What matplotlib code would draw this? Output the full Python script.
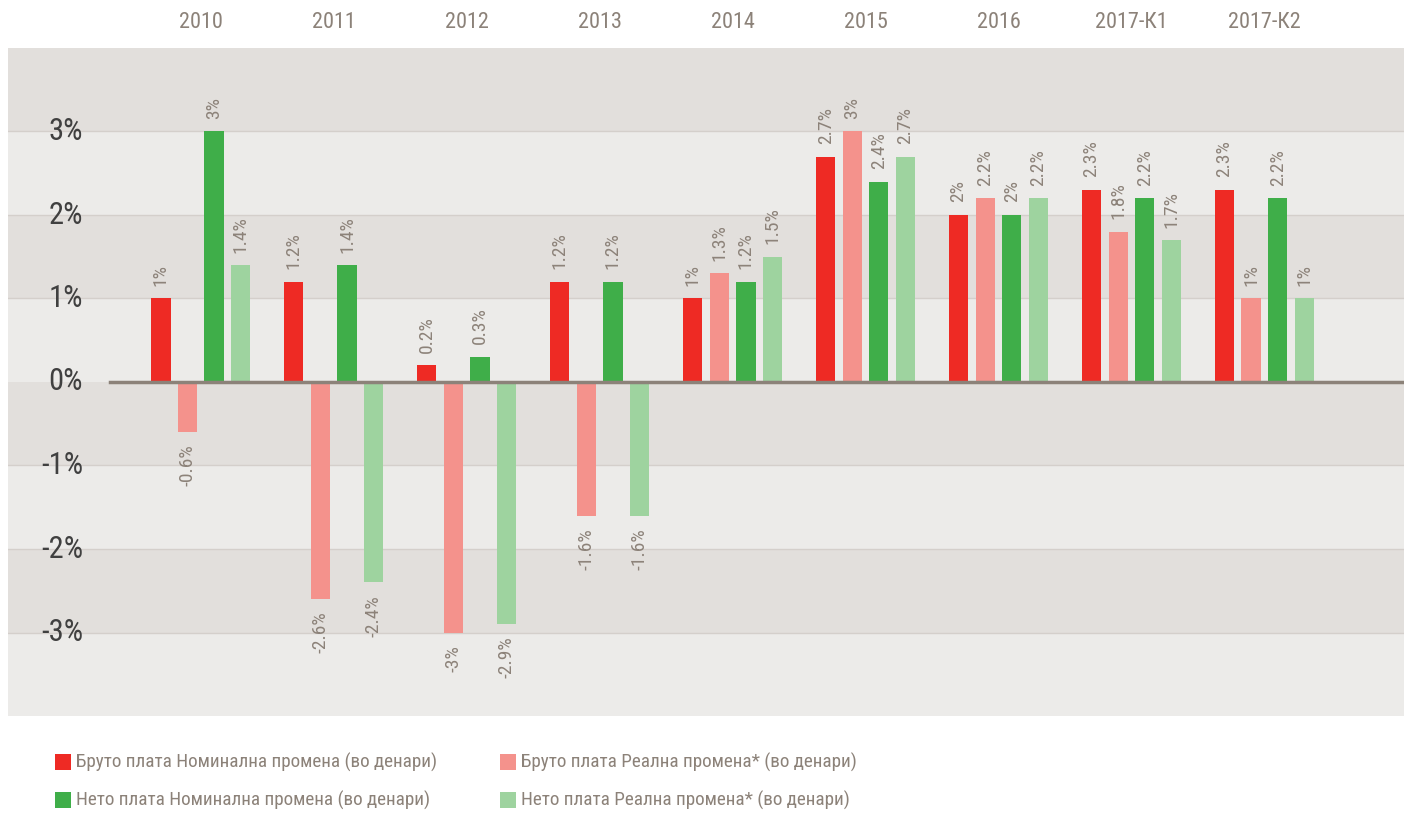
import matplotlib
matplotlib.use("Agg")
import matplotlib.pyplot as plt
from matplotlib.patches import Rectangle
import numpy as np

categories = ["2010", "2011", "2012", "2013", "2014", "2015", "2016", "2017-К1", "2017-К2"]
series_names = [
    "Бруто плата Номинална промена (во денари)",
    "Бруто плата Реална промена* (во денари)",
    "Нето плата Номинална промена (во денари)",
    "Нето плата Реална промена* (во денари)",
]
gross_nominal = [1, 1.2, 0.2, 1.2, 1, 2.7, 2, 2.3, 2.3]
gross_real = [-0.6, -2.6, -3, -1.6, 1.3, 3, 2.2, 1.8, 1]
net_nominal = [3, 1.4, 0.3, 1.2, 1.2, 2.4, 2, 2.2, 2.2]
net_real = [1.4, -2.4, -2.9, -1.6, 1.5, 2.7, 2.2, 1.7, 1]
y_ticks = [-3, -2, -1, 0, 1, 2, 3]

series = [gross_nominal, gross_real, net_nominal, net_real]
colors = ["#ee2a24", "#f4928c", "#3fae49", "#9ed39f"]

plt.rcParams["font.family"] = ["Roboto Condensed", "DejaVu Sans"]

TXT = "#8c8279"
W, H = 1408, 814
fig = plt.figure(figsize=(W / 100, H / 100), dpi=100)
ax = fig.add_axes([8 / W, 1 - 716 / H, 1396 / W, 668 / H])

ylo, yhi = -4, 4
ax.set_ylim(ylo, yhi)
x = np.arange(len(categories))
ax.set_xlim(-1.45, 9.05)

# bands
for lo in range(ylo, yhi):
    col = "#ecebe9" if (lo % 2 == 0) else "#e2dfdc"
    ax.axhspan(lo, lo + 1, color=col, lw=0, zorder=0)
for t in range(-3, 4):
    if t != 0:
        ax.axhline(t, color="#d4cfcb", lw=1, zorder=0.5)

step = 0.2
bw = 0.145
for i, (vals, c) in enumerate(zip(series, colors)):
    pos = x + (i - 1.5) * step
    ax.bar(pos, vals, width=bw, color=c, zorder=2)
    for p, v in zip(pos, vals):
        lbl = ("%g" % v) + "%"
        if v >= 0:
            ax.annotate(lbl, (p, v), xytext=(0, 9), textcoords="offset points",
                        rotation=90, ha="center", va="bottom", color=TXT, fontsize=14)
        else:
            ax.annotate(lbl, (p, v), xytext=(0, -9), textcoords="offset points",
                        rotation=90, ha="center", va="top", color=TXT, fontsize=14)

# zero line
ax.axhline(0, xmin=(110 - 8) / 1396, xmax=1, color="#8c8279", lw=2.5, zorder=3)

# y tick labels inside
for t in y_ticks:
    ax.text((83 - 8) / 1396, t, "%d%%" % t, transform=ax.get_yaxis_transform(),
            ha="right", va="center", fontsize=22, color="#404040", zorder=4)

# category labels at top
for xi, cat in zip(x, categories):
    ax.text(xi, 1 + 26 / 668, cat, transform=ax.get_xaxis_transform(),
            ha="center", va="center", fontsize=16, color=TXT, clip_on=False)

ax.set_xticks([])
ax.set_yticks([])
for s in ax.spines.values():
    s.set_visible(False)

# legend
leg_pos = [(55, 762), (500, 762), (55, 800), (500, 800)]
for (lx, ly), name, c in zip(leg_pos, series_names, colors):
    fig.add_artist(Rectangle((lx / W, 1 - (ly + 8) / H), 16 / W, 16 / H,
                             transform=fig.transFigure, color=c, lw=0))
    fig.text((lx + 21) / W, 1 - ly / H, name, ha="left", va="center",
             fontsize=13.8, color=TXT)

fig.savefig("out.png", dpi=100, facecolor="white")
